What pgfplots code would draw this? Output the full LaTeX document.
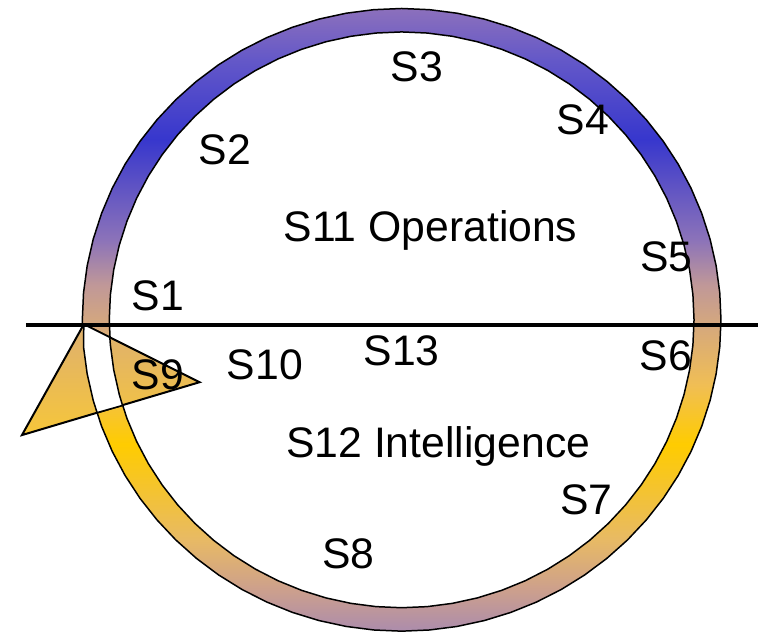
\documentclass[border=0pt]{standalone}
\usepackage{fontspec}
\setmainfont{Liberation Sans}
\usepackage{pgfplots}
\pgfplotsset{compat=1.18}

% ring colours, bottom to top
\definecolor{rA}{RGB}{172,140,172}
\definecolor{rB}{RGB}{205,160,140}
\definecolor{rC}{RGB}{232,186,100}
\definecolor{rD}{RGB}{255,204,0}
\definecolor{rE}{RGB}{240,190,85}
\definecolor{rF}{RGB}{213,168,125}
\definecolor{rG}{RGB}{192,152,152}
\definecolor{rH}{RGB}{140,115,185}
\definecolor{rI}{RGB}{55,55,205}
\definecolor{rJ}{RGB}{100,88,200}
\definecolor{rK}{RGB}{140,112,188}
\definecolor{triTop}{RGB}{222,176,112}
\definecolor{triBot}{RGB}{246,198,58}

\pgfdeclareverticalshading{ringshade}{100bp}{%
  color(0bp)=(rA); color(25bp)=(rA); color(28.4bp)=(rB); color(32.4bp)=(rC);
  color(40bp)=(rD); color(44.8bp)=(rE); color(49.6bp)=(rF); color(52.8bp)=(rG);
  color(56.4bp)=(rH); color(64.5bp)=(rI); color(70.9bp)=(rJ); color(75bp)=(rK);
  color(100bp)=(rK)}

\begin{document}
\begin{tikzpicture}
\begin{axis}[x=0.5pt, y=0.5pt, xmin=0, xmax=760, ymin=0, ymax=634,
  hide axis, clip=false]

% invisible frame so the page is the full 760 x 634 box
\addplot[draw=none, mark=none] coordinates {(0,0) (760,634)};

% outer ellipse of the ring, shaded
\addplot[draw=black, line width=0.75pt, shade, shading=ringshade, mark=none] coordinates {
 (722.5,313.5) (721.28,340.69) (717.64,367.68) (711.6,394.25) (703.2,420.21)
 (692.52,445.36) (679.63,469.5) (664.63,492.46) (647.63,514.05) (628.78,534.12)
 (608.19,552.5) (586.05,569.07) (562.5,583.7) (537.74,596.27) (511.95,606.68)
 (485.32,614.87) (458.07,620.76) (430.39,624.31) (402.5,625.5)
 (374.61,624.31) (346.93,620.76) (319.68,614.87) (293.05,606.68) (267.26,596.27)
 (242.5,583.7) (218.95,569.07) (196.81,552.5) (176.22,534.12) (157.37,514.05)
 (140.37,492.46) (125.37,469.5) (112.48,445.36) (101.8,420.21) (93.4,394.25)
 (87.36,367.68) (83.72,340.69) (82.5,313.5)
 (83.72,286.31) (87.36,259.32) (93.4,232.75) (101.8,206.79) (112.48,181.64)
 (125.37,157.5) (140.37,134.54) (157.37,112.95) (176.22,92.88) (196.81,74.5)
 (218.95,57.93) (242.5,43.3) (267.26,30.73) (293.05,20.32) (319.68,12.13)
 (346.93,6.24) (374.61,2.69) (402.5,1.5)
 (430.39,2.69) (458.07,6.24) (485.32,12.13) (511.95,20.32) (537.74,30.73)
 (562.5,43.3) (586.05,57.93) (608.19,74.5) (628.78,92.88) (647.63,112.95)
 (664.63,134.54) (679.63,157.5) (692.52,181.64) (703.2,206.79) (711.6,232.75)
 (717.64,259.32) (721.28,286.31) (722.5,313.5)
} -- cycle;

% inner ellipse, white
\addplot[draw=black, line width=0.75pt, fill=white, mark=none] coordinates {
 (695.5,313.5) (694.38,338.65) (691.05,363.6) (685.52,388.17) (677.83,412.17)
 (668.05,435.43) (656.25,457.75) (642.51,478.98) (626.95,498.95) (609.68,517.5)
 (590.84,534.5) (570.56,549.83) (549,563.35) (526.33,574.97) (502.71,584.6)
 (478.33,592.17) (453.38,597.62) (428.04,600.9) (402.5,602)
 (376.96,600.9) (351.62,597.62) (326.67,592.17) (302.29,584.6) (278.67,574.97)
 (256,563.35) (234.44,549.83) (214.16,534.5) (195.32,517.5) (178.05,498.95)
 (162.49,478.98) (148.75,457.75) (136.95,435.43) (127.17,412.17) (119.48,388.17)
 (113.95,363.6) (110.62,338.65) (109.5,313.5)
 (110.62,288.35) (113.95,263.4) (119.48,238.83) (127.17,214.83) (136.95,191.57)
 (148.75,169.25) (162.49,148.02) (178.05,128.05) (195.32,109.5) (214.16,92.5)
 (234.44,77.17) (256,63.65) (278.67,52.03) (302.29,42.4) (326.67,34.83)
 (351.62,29.38) (376.96,26.1) (402.5,25)
 (428.04,26.1) (453.38,29.38) (478.33,34.83) (502.71,42.4) (526.33,52.03)
 (549,63.65) (570.56,77.17) (590.84,92.5) (609.68,109.5) (626.95,128.05)
 (642.51,148.02) (656.25,169.25) (668.05,191.57) (677.83,214.83) (685.52,238.83)
 (691.05,263.4) (694.38,288.35) (695.5,313.5)
} -- cycle;

% arrow head triangle
\addplot[draw=black, line width=1pt, top color=triTop, bottom color=triBot, mark=none]
  coordinates {(84,309) (22,198) (200,251)} -- cycle;

% part of the ring under the triangle, left white
\addplot[draw=black, line width=0.75pt, fill=white, mark=none] coordinates {
 (84,309) (83.72,286.31) (87.36,259.32) (93.4,232.75) (97.3,220.5)
 (122.8,227.7) (119.48,238.83) (113.95,263.4) (110.62,288.35) (110.05,295.9)
} -- cycle;

% horizontal divider
\addplot[black, line width=1.6pt, mark=none] coordinates {(26,308.3) (760,308.3)};

\begin{scope}[every node/.style={anchor=base west, inner sep=0pt,
    font=\fontsize{21.4}{25}\selectfont}]
\node at (axis cs:391,552.3) {S3};
\node at (axis cs:557.5,499) {S4};
\node at (axis cs:199,469) {S2};
\node at (axis cs:284,392.3) {S11 Operations};
\node at (axis cs:641,362) {S5};
\node at (axis cs:131.5,323.3) {S1};
\node at (axis cs:131.5,244) {S9};
\node at (axis cs:227,254) {S10};
\node at (axis cs:364,268) {S13};
\node at (axis cs:640.5,262.3) {S6};
\node at (axis cs:286.5,175.7) {S12 Intelligence};
\node at (axis cs:561,118) {S7};
\node at (axis cs:322.5,64) {S8};
\end{scope}
\end{axis}
\end{tikzpicture}
\end{document}
